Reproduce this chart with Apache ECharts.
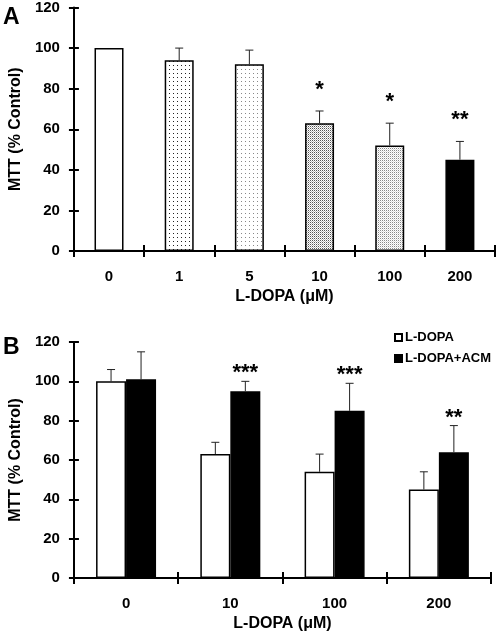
<!DOCTYPE html>
<html><head><meta charset="utf-8">
<script src="https://cdn.jsdelivr.net/npm/echarts@6/dist/echarts.min.js"></script>
<style>html,body{margin:0;padding:0;background:#fff}#c{width:498px;height:636px}</style>
</head><body><div id="c"></div>
<script>
// ---- Data (panel A) ----
const catsA = ['0', '1', '5', '10', '100', '200'];
const meanA = [100, 94, 92, 63, 52, 45];
const sdA = [null, 6, 7, 6, 11, 9];
const starsA = ['', '', '', '*', '*', '**'];
// ---- Data (panel B) ----
const catsB = ['0', '10', '100', '200'];
const ldopa = [100, 63, 54, 45];
const ldopaSd = [6, 6, 9, 9];
const acm = [101, 95, 85, 64];
const acmSd = [14, 5, 14, 13.5];
const starsB = ['', '***', '***', '**'];
const seriesNamesB = ['L-DOPA', 'L-DOPA+ACM'];

const FONT = 'Liberation Sans, Arial, sans-serif';

function pattern(w, h, bg, dots) {
  const c = document.createElement('canvas');
  c.width = w; c.height = h;
  const g = c.getContext('2d');
  g.fillStyle = bg; g.fillRect(0, 0, w, h);
  dots.forEach(d => { g.fillStyle = d[2]; g.fillRect(d[0], d[1], 1, 1); });
  return { image: c, repeat: 'repeat' };
}
const fills = [
  '#ffffff',
  pattern(4, 4, '#ffffff', [[1, 1, '#222']]),
  pattern(4, 4, '#ffffff', [[1, 1, '#888']]),
  pattern(2, 2, '#ffffff', [[0, 0, '#555'], [1, 1, '#bbb']]),
  pattern(2, 2, '#ffffff', [[0, 0, '#888'], [1, 1, '#ddd']]),
  '#000000'
];

const chart = echarts.init(document.getElementById('c'), null, { renderer: 'canvas' });

const tickStyle = { color: '#000', fontWeight: 'bold', fontSize: 15, fontFamily: FONT };
const nameStyle = { color: '#000', fontWeight: 'bold', fontSize: 16, fontFamily: FONT };

function yAxes(grid) {
  return [
    { type: 'value', gridIndex: grid, min: 0, max: 120, interval: 20,
      name: 'MTT (% Control)', nameLocation: 'middle', nameGap: 49,
      nameTextStyle: nameStyle,
      axisLine: { show: true, lineStyle: { color: '#000', width: 2 } },
      axisTick: { show: true, inside: false, length: 5, lineStyle: { color: '#000', width: 2 } },
      axisLabel: Object.assign({ margin: 14 }, tickStyle),
      splitLine: { show: false } },
    { type: 'value', gridIndex: grid, min: 0, max: 120, interval: 20, position: 'left',
      axisLine: { show: false }, axisLabel: { show: false },
      axisTick: { show: true, inside: true, length: 5, lineStyle: { color: '#000', width: 2 } },
      splitLine: { show: false } }
  ];
}
function xAxes(grid, cats) {
  return [
    { type: 'category', gridIndex: grid, data: cats,
      name: 'L-DOPA (\u03bcM)', nameLocation: 'middle', nameGap: 38,
      nameTextStyle: nameStyle,
      axisLine: { show: true, lineStyle: { color: '#000', width: 2 } },
      axisTick: { show: true, inside: false, length: 6, lineStyle: { color: '#000', width: 2 } },
      axisLabel: Object.assign({ margin: 18 }, tickStyle) },
    { type: 'category', gridIndex: grid, data: cats, position: 'bottom',
      axisLine: { show: false }, axisLabel: { show: false },
      axisTick: { show: true, inside: true, length: 6, lineStyle: { color: '#000', width: 2 } } }
  ];
}

function errRender(stars, xOffset, starGap) {
  return function (params, api) {
    const ci = api.value(0), mean = api.value(1), top = api.value(2);
    const pBase = api.coord([ci, mean]);
    const pTop = api.coord([ci, top]);
    const x = pBase[0] + xOffset;
    const children = [
      { type: 'line', shape: { x1: x, y1: pBase[1], x2: x, y2: pTop[1] },
        style: { stroke: '#222', lineWidth: 1 } },
      { type: 'line', shape: { x1: x - 4, y1: pTop[1], x2: x + 4, y2: pTop[1] },
        style: { stroke: '#222', lineWidth: 1 } }
    ];
    const s = stars[params.dataIndex];
    if (s) {
      children.push({ type: 'text', x: x, y: pTop[1] - starGap,
        style: { text: s, fill: '#000', font: 'bold 22px ' + FONT, align: 'center', verticalAlign: 'middle' } });
    }
    return { type: 'group', children: children };
  };
}

function errData(means, sds) {
  const out = [];
  means.forEach((m, i) => { if (sds[i] != null) out.push([i, m, m + sds[i]]); });
  return out;
}
const errDataA = errData(meanA, sdA);
const starsAFiltered = errDataA.map(d => starsA[d[0]]);
const errDataB1 = errData(ldopa, ldopaSd);
const errDataB2 = errData(acm, acmSd);
const starsB2 = errDataB2.map(d => starsB[d[0]]);

const option = {
  animation: false,
  backgroundColor: '#fff',
  grid: [
    { left: 71, top: 7, width: 424, height: 244, containLabel: false },
    { left: 71, top: 342, width: 420, height: 236, containLabel: false }
  ],
  xAxis: [...xAxes(0, catsA), ...xAxes(1, catsB)],
  yAxis: [...yAxes(0), ...yAxes(1)],
  legend: {
    data: seriesNamesB, orient: 'vertical', left: 389, top: 326,
    icon: 'rect', itemWidth: 7, itemHeight: 7, itemGap: 8,
    textStyle: { color: '#000', fontWeight: 'bold', fontSize: 13, fontFamily: FONT, padding: [0, 0, 0, -2] },
    selectedMode: false
  },
  graphic: [
    { type: 'text', left: 3, top: 6, style: { text: 'A', fill: '#000', font: 'bold 23px ' + FONT } },
    { type: 'text', left: 3, top: 336, style: { text: 'B', fill: '#000', font: 'bold 23px ' + FONT } }
  ],
  series: [
    { type: 'bar', xAxisIndex: 0, yAxisIndex: 0, barWidth: 29,
      data: meanA.map((v, i) => ({ value: v, itemStyle: { color: fills[i] } })),
      itemStyle: { borderColor: '#000', borderWidth: 1.5 } },
    { type: 'custom', xAxisIndex: 0, yAxisIndex: 0, z: 5,
      renderItem: errRender(starsAFiltered, 0, 21), data: errDataA },
    { type: 'bar', name: seriesNamesB[0], xAxisIndex: 2, yAxisIndex: 2, barWidth: 30, barGap: '0%',
      data: ldopa, itemStyle: { color: '#fff', borderColor: '#000', borderWidth: 1.5 } },
    { type: 'bar', name: seriesNamesB[1], xAxisIndex: 2, yAxisIndex: 2, barWidth: 30, barGap: '0%',
      data: acm, itemStyle: { color: '#000', borderColor: '#000', borderWidth: 1.5 } },
    { type: 'custom', xAxisIndex: 2, yAxisIndex: 2, z: 5,
      renderItem: errRender([], -15, 0), data: errDataB1 },
    { type: 'custom', xAxisIndex: 2, yAxisIndex: 2, z: 5,
      renderItem: errRender(starsB2, 15, 8), data: errDataB2 }
  ]
};
chart.setOption(option);
</script></body></html>
